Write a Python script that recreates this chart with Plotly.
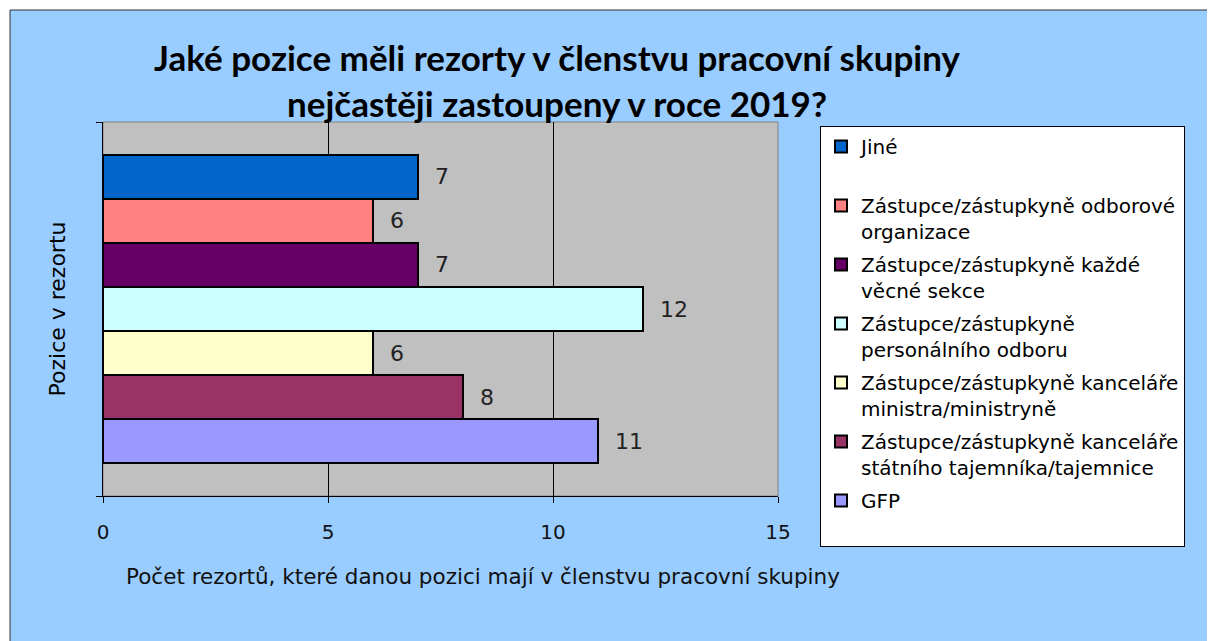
import plotly.graph_objects as go

# Legend order (top to bottom in the chart)
positions = [
    "Jiné<br>\u00a0",
    "Zástupce/zástupkyně odborové<br>organizace",
    "Zástupce/zástupkyně každé<br>věcné sekce",
    "Zástupce/zástupkyně<br>personálního odboru",
    "Zástupce/zástupkyně kanceláře<br>ministra/ministryně",
    "Zástupce/zástupkyně kanceláře<br>státního tajemníka/tajemnice",
    "GFP<br>\u00a0",
]
counts = [7, 6, 7, 12, 6, 8, 11]
colors = ["#0066CC", "#FF8080", "#660066", "#CCFFFF", "#FFFFCC", "#993366", "#9999FF"]
x_ticks = [0, 5, 10, 15]

OFF = 8  # page body margin
W, H = 1215 - OFF, 641 - OFF
L, R, T, B = 103 - OFF, 778 - OFF, 122 - OFF, 496 - OFF
pw, ph = R - L, B - T


def px_x(p):
    return (p - OFF - L) / pw


def px_y(p):
    return 1 - (p - OFF - T) / ph


BODY = "DejaVu Sans"
TITLE = "Lato"

fig = go.Figure()
n = len(positions)
for i in reversed(range(n)):
    fig.add_trace(go.Bar(
        y=[0], x=[counts[i]], orientation="h", name=positions[i],
        marker=dict(color=colors[i], line=dict(color="#000000", width=2)),
        text=[counts[i]], texttemplate="  %{text}", textposition="outside",
        textfont=dict(family=BODY, size=22, color="#222222"),
        cliponaxis=False, legendgroup=str(i), legendrank=i + 1,
    ))

fig.update_layout(
    width=W, height=H,
    margin=dict(l=L, r=W - R, t=T, b=H - B, autoexpand=False),
    paper_bgcolor="#FFFFFF",
    plot_bgcolor="rgba(0,0,0,0)",
    barmode="group", bargap=0.176, bargroupgap=0,
    font=dict(family=BODY, size=20, color="#000000"),
    title=dict(
        text="Jaké pozice měli rezorty v členstvu pracovní skupiny<br>nejčastěji zastoupeny v roce 2019?",
        x=(557 - OFF) / W, xanchor="center", xref="container",
        y=1 - (71 - OFF) / H, yanchor="middle", yref="container",
        font=dict(family=TITLE, size=35, color="#000000", weight="bold"),
    ),
    xaxis=dict(
        range=[0, 15], tickvals=x_ticks, ticks="outside", ticklen=6,
        tickcolor="#000", showline=True, linecolor="#000", linewidth=1,
        showgrid=True, gridcolor="#000", gridwidth=1, zeroline=False,
        ticklabelstandoff=12,
        tickfont=dict(size=20, family=BODY, color="#111"),
    ),
    yaxis=dict(
        range=[-0.5, 0.5], tickvals=[-0.5, 0.5], showticklabels=False,
        ticks="outside", ticklen=6, tickcolor="#000",
        showline=True, linecolor="#000", linewidth=1, showgrid=False, zeroline=False,
        title=dict(text="Pozice v rezortu", standoff=24,
                   font=dict(size=22, family=BODY, color="#000")),
    ),
    legend=dict(
        x=px_x(820), y=px_y(126), xanchor="left", yanchor="top",
        bgcolor="#FFFFFF", bordercolor="#000000", borderwidth=1,
        traceorder="grouped", tracegroupgap=4, valign="top",
        itemwidth=30, maxheight=480,
        font=dict(size=20, family=BODY, color="#000"),
    ),
    showlegend=True,
    shapes=[
        dict(type="rect", xref="paper", yref="paper", layer="below",
             x0=px_x(10), x1=px_x(1212), y0=px_y(660), y1=px_y(10),
             fillcolor="#99CCFF", line=dict(color="#333333", width=1)),
        dict(type="rect", xref="paper", yref="paper", layer="below",
             x0=0, x1=1, y0=0, y1=1,
             fillcolor="#C0C0C0", line=dict(color="#808080", width=1)),
    ],
    annotations=[
        dict(text="Počet rezortů, které danou pozici mají v členstvu pracovní skupiny",
             xref="paper", yref="paper", x=px_x(124), y=px_y(576),
             xanchor="left", yanchor="middle", showarrow=False,
             font=dict(size=21.5, family=BODY, color="#111")),
    ],
)

fig.write_html("out.html")
